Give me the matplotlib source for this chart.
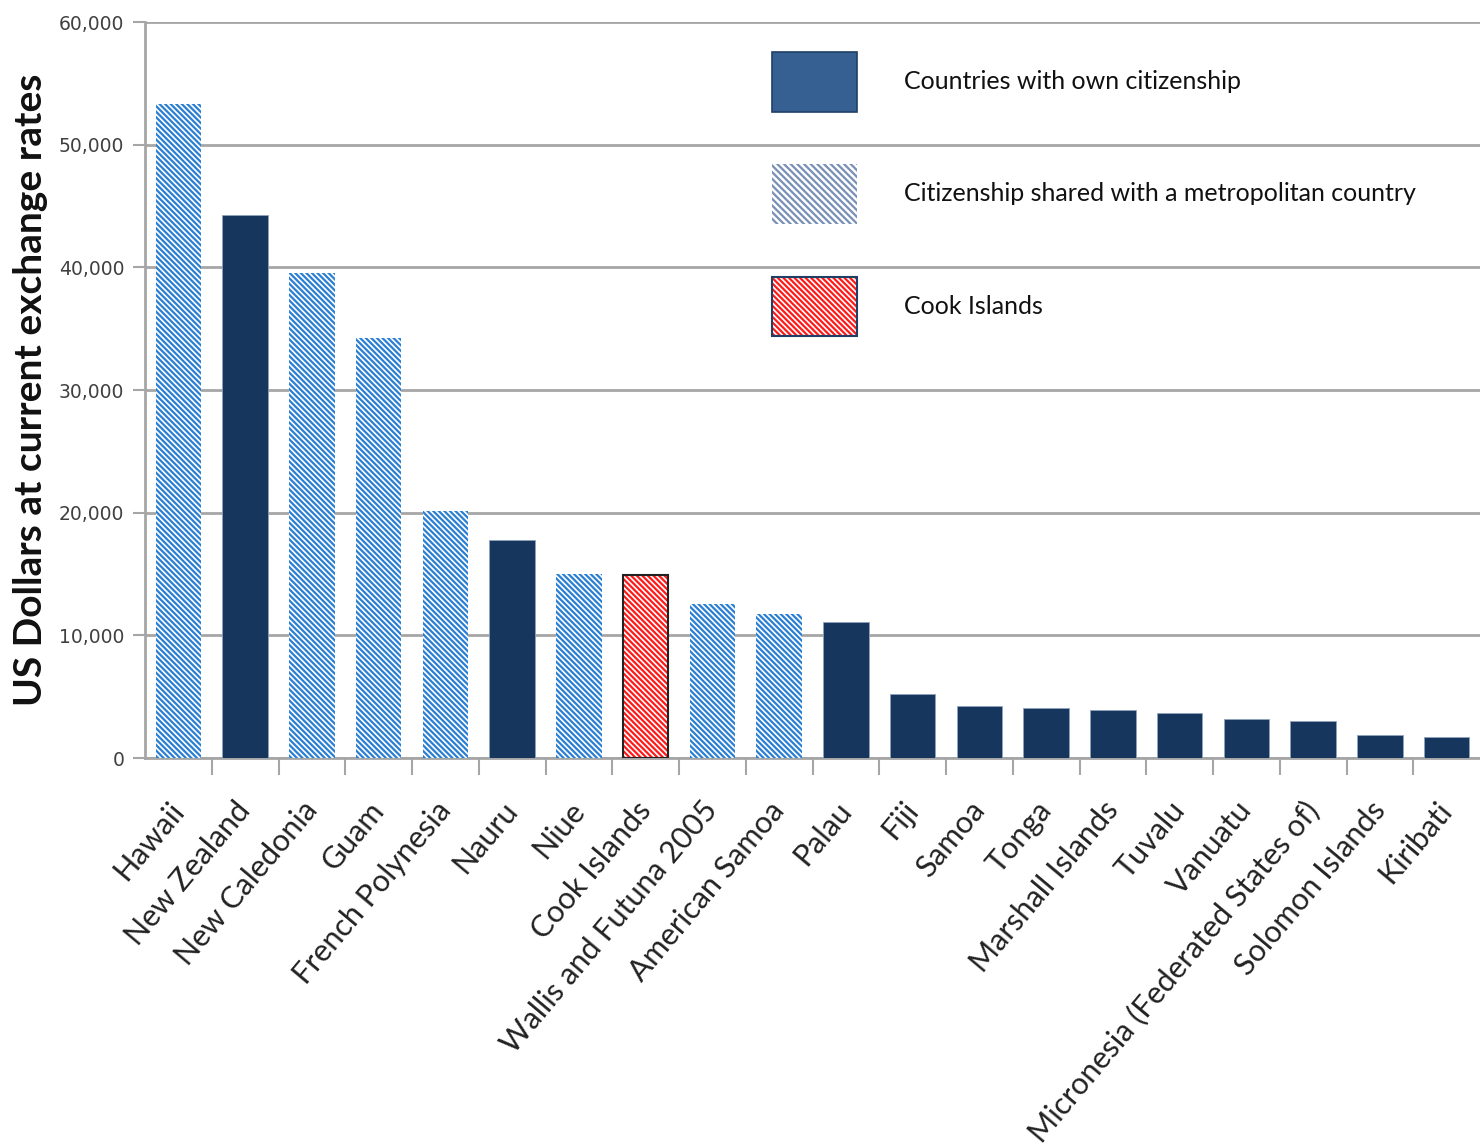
import numpy as np
import matplotlib
matplotlib.use('Agg')
import matplotlib.pyplot as plt
from matplotlib.patches import Patch
from matplotlib.ticker import FuncFormatter, FixedLocator

# GDP per capita, Pacific territories
countries = ['Hawaii', 'New Zealand', 'New Caledonia', 'Guam', 'French Polynesia',
             'Nauru', 'Niue', 'Cook Islands', 'Wallis and Futuna 2005', 'American Samoa',
             'Palau', 'Fiji', 'Samoa', 'Tonga', 'Marshall Islands', 'Tuvalu', 'Vanuatu',
             'Micronesia (Federated States of)', 'Solomon Islands', 'Kiribati']
gdp = [53300, 44300, 39500, 34200, 20100, 17800, 15000, 14950, 12550, 11700,
       11100, 5200, 4250, 4100, 3900, 3700, 3200, 3000, 1900, 1700]
# own = own citizenship, shared = shared with metropolitan country, cook = Cook Islands
status = ['shared', 'own', 'shared', 'shared', 'shared', 'own', 'shared', 'cook',
          'shared', 'shared', 'own', 'own', 'own', 'own', 'own', 'own', 'own',
          'own', 'own', 'own']
legend_labels = ['Countries with own citizenship',
                 'Citizenship shared with a metropolitan country',
                 'Cook Islands']

plt.rcParams['hatch.linewidth'] = 1.6

navy = '#17365d'
blue = '#2b7fd2'
red = '#ff1a1a'
grid_c = '#a6a6a6'
dense = '\\' * 6

fig = plt.figure(figsize=(14.8, 11.47), dpi=100)
ax = fig.add_axes([145/1480, 1-758/1147, 1-145/1480, (758-22)/1147])

x = np.arange(len(countries))
for i, (v, s) in enumerate(zip(gdp, status)):
    if s == 'own':
        ax.bar(x[i], v, width=0.68, color=navy, edgecolor='#8ea3bd', linewidth=0.6, zorder=3)
    elif s == 'shared':
        ax.bar(x[i], v, width=0.68, color='white', edgecolor=blue, hatch=dense,
               linewidth=0, zorder=3)
    else:
        ax.bar(x[i], v, width=0.68, color='white', edgecolor=red, hatch=dense,
               linewidth=0, zorder=3)
        ax.bar(x[i], v, width=0.68, color='none', edgecolor='#222222', linewidth=1.5, zorder=4)

ax.set_xlim(-0.5, len(countries) - 0.5)
ax.set_ylim(0, 60000)
ax.set_yticks(np.arange(0, 60001, 10000))
ax.yaxis.set_major_formatter(FuncFormatter(lambda v, p: f'{int(v):,}'))
ax.grid(axis='y', color=grid_c, linewidth=2, zorder=0)

for s in ['top', 'right']:
    ax.spines[s].set_visible(False)
for s in ['left', 'bottom']:
    ax.spines[s].set_color(grid_c)
    ax.spines[s].set_linewidth(2)

ax.tick_params(axis='y', direction='out', length=9, width=1.5, color=grid_c,
               labelsize=13.5, labelcolor='#404040', pad=6)
for t in ax.get_yticklabels():
    t.set_family('DejaVu Sans')

# category labels on major ticks, tick marks between categories
ax.set_xticks(x)
ax.set_xticklabels(countries, rotation=50, ha='right', va='center',
                   rotation_mode='anchor', fontsize=22, family=['Lato', 'DejaVu Sans'],
                   color='#222222')
ax.tick_params(axis='x', which='major', length=0, pad=34)
ax.xaxis.set_minor_locator(FixedLocator(x[:-1] + 0.5))
ax.tick_params(axis='x', which='minor', direction='out', length=12, width=1.5, color=grid_c)

ax.set_ylabel('US Dollars at current exchange rates', fontsize=28, fontweight='bold',
              family=['Lato', 'DejaVu Sans'], color='#111111', labelpad=8)

# legend swatches; Cook Islands swatch is a hatched patch with a dark outline on top
cook_fill = Patch(facecolor='white', edgecolor=red, hatch=dense, linewidth=0)
cook_edge = Patch(facecolor='none', edgecolor='#1f3f66', linewidth=1.5)
handles = [
    Patch(facecolor='#376092', edgecolor='#1f3f66', linewidth=1.2),
    Patch(facecolor='white', edgecolor='#7890b5', hatch='\\' * 5, linewidth=0),
    (cook_fill, cook_edge),
]
leg = ax.legend(handles, legend_labels, loc='upper left',
                bbox_to_anchor=((772-145)/1335, (758-52)/736), frameon=False,
                prop={'family': ['Lato', 'DejaVu Sans'], 'size': 18},
                handlelength=3.4, handleheight=3.3, labelspacing=2.1,
                handletextpad=1.9, borderpad=0, borderaxespad=0)
for txt in leg.get_texts():
    txt.set_color('#111111')

fig.savefig('out.png', dpi=100)
